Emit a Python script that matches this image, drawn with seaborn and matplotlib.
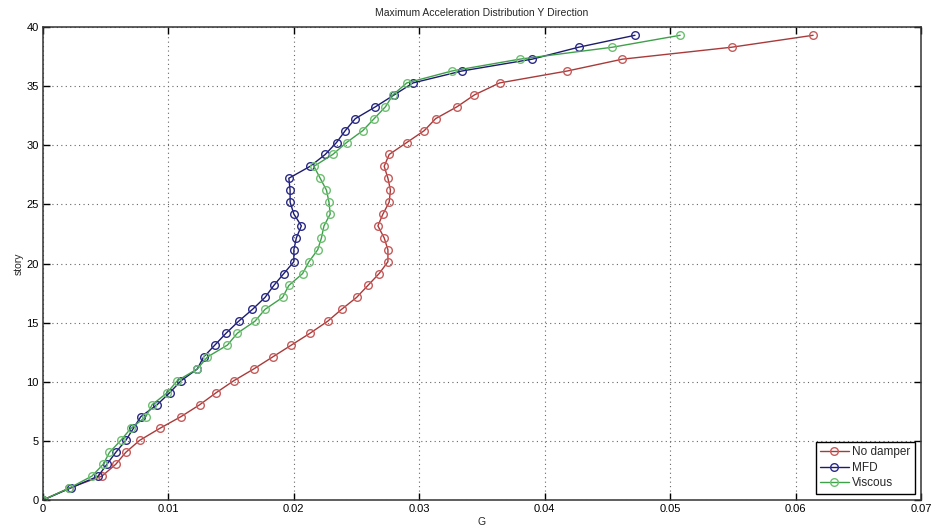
import numpy as np
import pandas as pd
import matplotlib
matplotlib.use("Agg")
import matplotlib.pyplot as plt
import seaborn as sns

# story levels
story = [0.0, 1.01, 2.02, 3.02, 4.03, 5.04, 6.05, 7.05, 8.06, 9.07,
         10.08, 11.08, 12.09, 13.10, 14.11, 15.12, 16.12, 17.13, 18.14, 19.15,
         20.15, 21.16, 22.17, 23.18, 24.18, 25.19, 26.20, 27.21, 28.22, 29.22,
         30.23, 31.24, 32.25, 33.25, 34.26, 35.27, 36.28, 37.28, 38.29, 39.30]

no_damper = [0.0, 0.0021, 0.0047, 0.0058, 0.0066, 0.0077, 0.0093, 0.0110, 0.0125, 0.0138,
             0.0152, 0.0168, 0.0183, 0.0198, 0.0213, 0.0227, 0.0238, 0.0250, 0.0259, 0.0268,
             0.0275, 0.0275, 0.0272, 0.0267, 0.0271, 0.0276, 0.0277, 0.0275, 0.0272, 0.0276,
             0.0290, 0.0304, 0.0313, 0.0330, 0.0344, 0.0364, 0.0418, 0.0462, 0.0549, 0.0614]

mfd = [0.0, 0.0022, 0.0044, 0.0051, 0.0058, 0.0066, 0.0072, 0.0078, 0.0091, 0.0101,
       0.0110, 0.0123, 0.0128, 0.0137, 0.0146, 0.0156, 0.0167, 0.0177, 0.0184, 0.0192,
       0.0200, 0.0200, 0.0202, 0.0206, 0.0200, 0.0197, 0.0197, 0.0196, 0.0213, 0.0225,
       0.0234, 0.0241, 0.0249, 0.0265, 0.0280, 0.0295, 0.0334, 0.0390, 0.0427, 0.0472]

viscous = [0.0, 0.0021, 0.0039, 0.0048, 0.0053, 0.0062, 0.0070, 0.0082, 0.0087, 0.0099,
           0.0107, 0.0123, 0.0131, 0.0147, 0.0155, 0.0169, 0.0177, 0.0191, 0.0196, 0.0207,
           0.0212, 0.0219, 0.0222, 0.0224, 0.0229, 0.0228, 0.0226, 0.0221, 0.0216, 0.0231,
           0.0242, 0.0255, 0.0264, 0.0273, 0.0279, 0.0290, 0.0326, 0.0380, 0.0454, 0.0508]

names = ["No damper", "MFD", "Viscous"]
line_cols = ["#a83a3a", "#1c1c6e", "#3fa04a"]
mark_cols = ["#c85a5a", "#2a2a8a", "#6cc070"]

xticks = [0, 0.01, 0.02, 0.03, 0.04, 0.05, 0.06, 0.07]
xticklabels = ["0", "0.01", "0.02", "0.03", "0.04", "0.05", "0.06", "0.07"]
yticks = [0, 5, 10, 15, 20, 25, 30, 35, 40]

df = pd.concat([
    pd.DataFrame({"story": story, "G": vals, "series": nm})
    for nm, vals in zip(names, [no_damper, mfd, viscous])
], ignore_index=True)

sns.set_style("white")
plt.rcParams["font.family"] = ["Liberation Sans", "DejaVu Sans"]

fig, ax = plt.subplots(figsize=(9.33, 5.32), dpi=100)
fig.subplots_adjust(left=43 / 933, right=921 / 933, top=1 - 27 / 532, bottom=1 - 500 / 532)

for nm, lc, mc in zip(names, line_cols, mark_cols):
    sns.lineplot(data=df[df["series"] == nm], x="G", y="story", sort=False, estimator=None,
                 color=lc, lw=1.0, marker="o", ms=5.5, mfc="none", mec=mc, mew=1.0,
                 label=nm, ax=ax)

ax.set_xlim(0, 0.07)
ax.set_ylim(0, 40)
ax.set_xticks(xticks)
ax.set_xticklabels(xticklabels)
ax.set_yticks(yticks)
ax.tick_params(direction="in", length=5, width=1, labelsize=8, top=True, right=True,
               bottom=True, left=True, pad=3, colors="black")
ax.grid(True, color="#666666", linestyle=(0, (1, 3)), lw=0.8)
for sp in ax.spines.values():
    sp.set_color("#333333")
    sp.set_linewidth(1.1)

ax.set_title("Maximum Acceleration Distribution Y Direction", fontsize=7.5, pad=8)
ax.set_xlabel("G", fontsize=7.5, labelpad=2)
ax.set_ylabel("story", fontsize=7.5, labelpad=2)

leg = ax.legend(loc="lower right", fontsize=8.5, frameon=True, fancybox=False,
                edgecolor="black", framealpha=1, handlelength=2.4, borderpad=0.4,
                labelspacing=0.3, handletextpad=0.3, borderaxespad=0.5)
leg.get_frame().set_linewidth(1.0)

fig.savefig("out.png", dpi=100)
